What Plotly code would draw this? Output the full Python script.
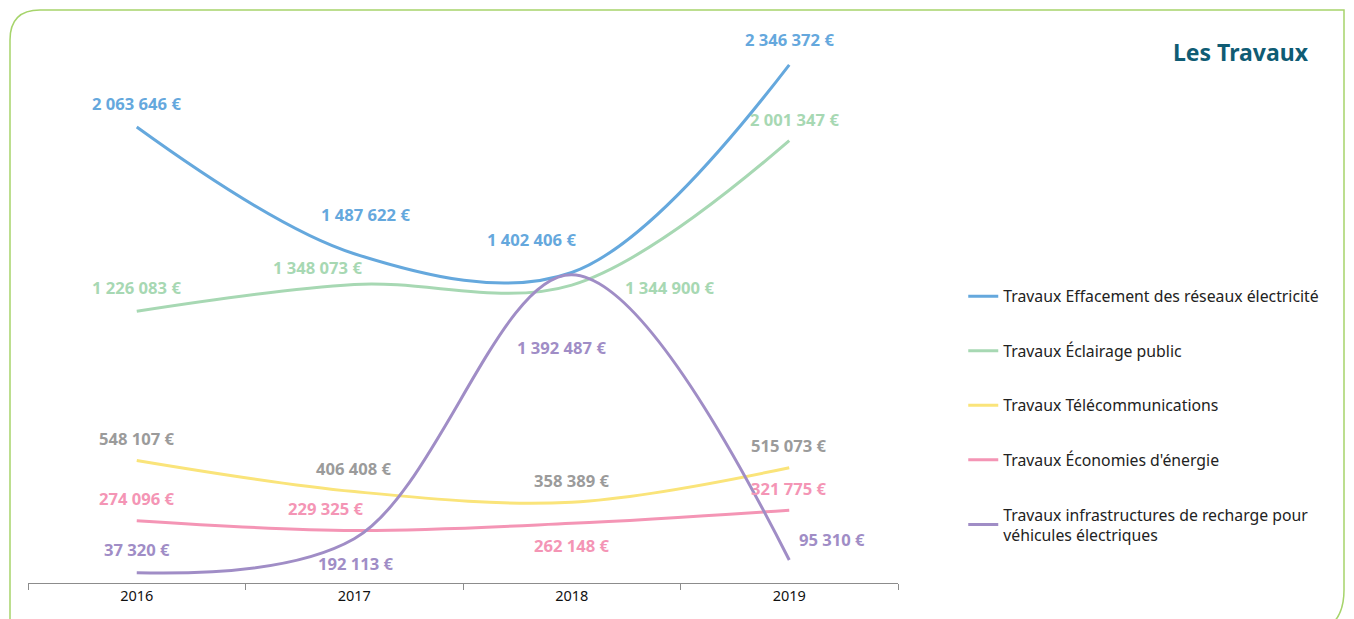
import plotly.graph_objects as go

years = ["2016", "2017", "2018", "2019"]

effacement = [2063646, 1487622, 1402406, 2346372]
eclairage = [1226083, 1348073, 1344900, 2001347]
telecom = [548107, 406408, 358389, 515073]
economies = [274096, 229325, 262148, 321775]
recharge = [37320, 192113, 1392487, 95310]

names = [
    "Travaux Effacement des réseaux électricité",
    "Travaux Éclairage public",
    "Travaux Télécommunications",
    "Travaux Économies d'énergie",
    "Travaux infrastructures de recharge pour<br>véhicules électriques",
]
lineColors = ["#65A8DD", "#A7D8B3", "#FAE47A", "#F495B5", "#A08DC6"]
labelColors = ["#65A8DD", "#A7D8B3", "#9B9B9B", "#F495B5", "#A08DC6"]

# label offsets (px) for each point, per series
labelShifts = [
    [(0, 24), (11, 39), (-40, 33), (0, 25)],
    [(0, 24), (-37, 17), (98, -2), (5, 21)],
    [(0, 22), (0, 23), (0, 22), (0, 22)],
    [(0, 22), (-28, 22), (0, -22), (0, 22)],
    [(0, 23), (2, -25), (-10, -73), (43, 21)],
]

allSeries = [effacement, eclairage, telecom, economies, recharge]


def euro(v):
    return f"{v:,}".replace(",", " ") + " €"


fig = go.Figure()
annotations = []
for i, series in enumerate(allSeries):
    fig.add_trace(go.Scatter(
        x=years, y=series, name=names[i], mode="lines",
        line=dict(color=lineColors[i], width=3, shape="spline", smoothing=1),
        legendgroup=str(i),
    ))
    for j, v in enumerate(series):
        dx, dy = labelShifts[i][j]
        annotations.append(dict(
            x=j, y=v, text="<b>" + euro(v) + "</b>", showarrow=False,
            xshift=dx, yshift=dy,
            font=dict(family="Noto Sans", size=16.6, color=labelColors[i]),
        ))

annotations.append(dict(
    xref="paper", yref="paper", x=1.4747, y=0.962, xanchor="right", yanchor="middle",
    text="<b>Les Travaux</b>", showarrow=False,
    font=dict(family="Noto Sans", size=23, color="#0F5C74"),
))

# the page adds an 8px body margin, so everything is placed 8px up/left
L, T = 20, 23
W, H = 870, 552


def px(x):
    return (x - 8 - L) / W


def py(y):
    return (T + H - (y - 8)) / H


r1, r2 = 30, 44
left, top, right, bottom = 10, 10, 1344, 634
path = (
    f"M {px(left)},{py(bottom + 20)} L {px(left)},{py(top + r1)} "
    f"Q {px(left)},{py(top)} {px(left + r1)},{py(top)} "
    f"L {px(right)},{py(top)} L {px(right)},{py(bottom - r2)} "
    f"Q {px(right)},{py(bottom)} {px(right - r2)},{py(bottom)}"
)

fig.update_layout(
    width=1354, height=619,
    margin=dict(l=L, r=1354 - L - W, t=T, b=619 - T - H, pad=0),
    paper_bgcolor="white", plot_bgcolor="white",
    font=dict(family="Noto Sans", size=14, color="#222222"),
    showlegend=True,
    legend=dict(
        x=1.075, xanchor="left", y=0.55, yanchor="top",
        tracegroupgap=31, font=dict(size=15.8, color="#222222"),
        itemwidth=30,
    ),
    xaxis=dict(
        type="category", range=[-0.5, 3.5], showgrid=False, zeroline=False,
        showline=True, linecolor="#8C8C8C", linewidth=1,
        ticks="outside", tickson="boundaries", ticklen=6, tickcolor="#8C8C8C",
        tickfont=dict(size=14.5, color="#111111"), fixedrange=True,
    ),
    yaxis=dict(
        range=[-9091, 2500000], visible=False, showgrid=False, zeroline=False,
    ),
    annotations=annotations,
    shapes=[dict(
        type="path", xref="paper", yref="paper", path=path,
        line=dict(color="#A6D46B", width=1.5), layer="below",
    )],
)

fig.write_html("out.html")
